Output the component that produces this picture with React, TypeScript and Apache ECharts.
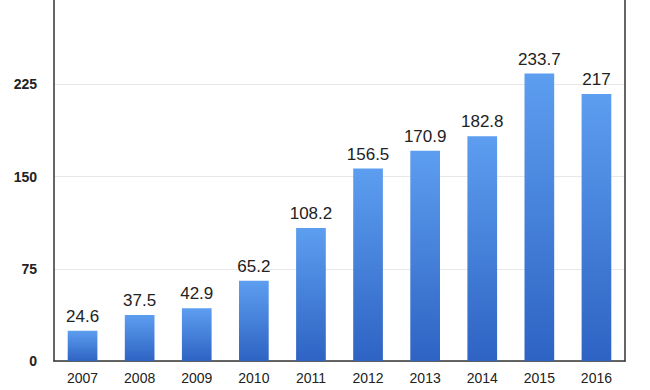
import React, { useEffect, useRef } from "react";
import * as echarts from "echarts";

const categories = ["2007", "2008", "2009", "2010", "2011", "2012", "2013", "2014", "2015", "2016"];
const values = [24.6, 37.5, 42.9, 65.2, 108.2, 156.5, 170.9, 182.8, 233.7, 217];
const yTicks = [0, 75, 150, 225, 300];

export default function App() {
  const ref = useRef<HTMLDivElement>(null);
  useEffect(() => {
    if (!ref.current) return;
    const chart = echarts.init(ref.current, null, { renderer: "svg" });
    const font = "'Liberation Sans', Arial, Helvetica, sans-serif";
    chart.setOption({
      animation: false,
      backgroundColor: "#ffffff",
      textStyle: { fontFamily: font },
      grid: { left: 54, right: 25, top: 8, bottom: 29, containLabel: false },
      xAxis: {
        type: "category",
        data: categories,
        axisLine: { show: true, lineStyle: { color: "#333", width: 1.5 } },
        axisTick: { show: false },
        axisLabel: { color: "#222", fontSize: 14, margin: 10, fontFamily: font },
      },
      yAxis: [
        {
          type: "value",
          min: yTicks[0],
          max: yTicks[yTicks.length - 1],
          interval: 75,
          axisLine: { show: true, lineStyle: { color: "#333", width: 1.5 } },
          axisTick: { show: false },
          axisLabel: { color: "#222", fontSize: 14, fontWeight: "bold", margin: 17, fontFamily: font },
          splitLine: { show: true, lineStyle: { color: "#e8e8e8", width: 1 } },
        },
        {
          type: "value",
          position: "right",
          min: yTicks[0],
          max: yTicks[yTicks.length - 1],
          interval: 75,
          axisLine: { show: true, lineStyle: { color: "#333", width: 1.5 } },
          axisTick: { show: false },
          axisLabel: { show: false },
          splitLine: { show: false },
        },
      ],
      series: [
        {
          type: "bar",
          data: values,
          barWidth: "52%",
          itemStyle: {
            color: new echarts.graphic.LinearGradient(0, 0, 0, 1, [
              { offset: 0, color: "#5d9ef0" },
              { offset: 1, color: "#2e63c3" },
            ]),
          },
          label: {
            show: true,
            position: "top",
            distance: 6,
            color: "#222",
            fontSize: 17,
            fontFamily: font,
          },
        },
      ],
    });
    return () => chart.dispose();
  }, []);
  return (
    <div style={{ position: "absolute", left: 0, top: 0, width: 650, height: 390, overflow: "hidden" }}>
      <div ref={ref} style={{ width: 650, height: 406, position: "absolute", left: 0, top: -16 }} />
    </div>
  );
}
